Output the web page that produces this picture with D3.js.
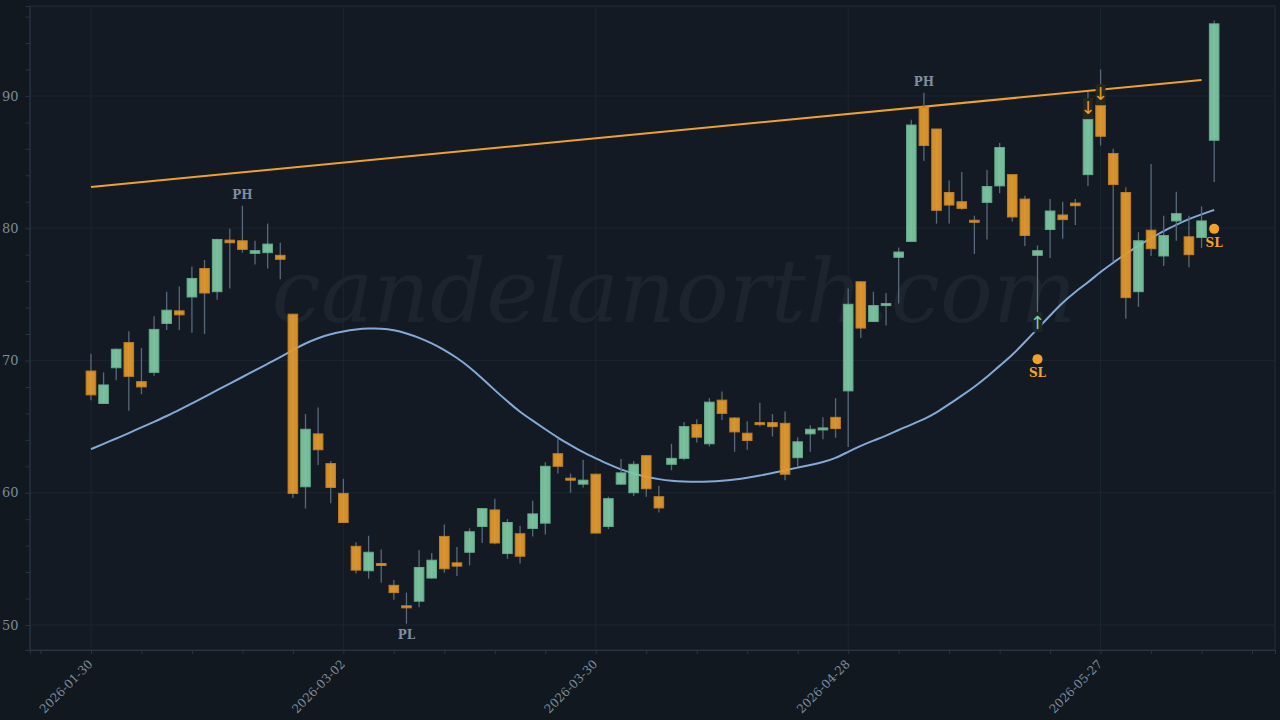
<!DOCTYPE html>
<html>
<head>
<meta charset="utf-8">
<script src="https://cdn.jsdelivr.net/npm/d3@7"></script>
<style>
  html, body { margin: 0; padding: 0; background: #111820; }
  svg { display: block; }
</style>
</head>
<body>
<svg id="chart" width="1280" height="720"></svg>
<script>
// trading days (index = candle)
const dates = [
  '2026-01-30',
  '2026-02-02','2026-02-03','2026-02-04','2026-02-05','2026-02-06',
  '2026-02-09','2026-02-10','2026-02-11','2026-02-12','2026-02-13',
  '2026-02-17','2026-02-18','2026-02-19','2026-02-20',
  '2026-02-23','2026-02-24','2026-02-25','2026-02-26','2026-02-27',
  '2026-03-02','2026-03-03','2026-03-04','2026-03-05','2026-03-06',
  '2026-03-09','2026-03-10','2026-03-11','2026-03-12','2026-03-13',
  '2026-03-16','2026-03-17','2026-03-18','2026-03-19','2026-03-20',
  '2026-03-23','2026-03-24','2026-03-25','2026-03-26','2026-03-27',
  '2026-03-30','2026-03-31','2026-04-01','2026-04-02',
  '2026-04-06','2026-04-07','2026-04-08','2026-04-09','2026-04-10',
  '2026-04-13','2026-04-14','2026-04-15','2026-04-16','2026-04-17',
  '2026-04-20','2026-04-21','2026-04-22','2026-04-23','2026-04-24',
  '2026-04-27','2026-04-28','2026-04-29','2026-04-30','2026-05-01',
  '2026-05-04','2026-05-05','2026-05-06','2026-05-07','2026-05-08',
  '2026-05-11','2026-05-12','2026-05-13','2026-05-14','2026-05-15',
  '2026-05-18','2026-05-19','2026-05-20','2026-05-21','2026-05-22',
  '2026-05-26','2026-05-27','2026-05-28','2026-05-29',
  '2026-06-01','2026-06-02','2026-06-03','2026-06-04','2026-06-05',
  '2026-06-08','2026-06-09'
];
const labelDates = ['2026-01-30', '2026-03-02', '2026-03-30', '2026-04-28', '2026-05-27'];

const open = [
  69.2, 66.75, 69.45, 71.35, 68.4, 69.1, 72.8, 73.75, 74.8, 76.95,
  75.2, 79.1, 79.05, 78.1, 78.15, 77.95, 73.5, 60.45, 64.45, 62.2,
  59.95, 55.95, 54.1, 54.65, 53.0, 51.45, 51.8, 53.55, 56.7, 54.7,
  55.5, 57.45, 58.7, 55.4, 56.9, 57.3, 57.7, 62.95, 61.1, 60.65,
  61.4, 57.45, 60.65, 60.0, 62.8, 59.7, 62.15, 62.6, 65.15, 63.7,
  67.0, 65.65, 64.5, 65.3, 65.3, 65.25, 62.65, 64.45, 64.8, 65.7,
  67.7, 75.95, 72.95, 74.2, 77.8, 79.0, 89.15, 87.5, 82.7, 82.0,
  80.6, 81.95, 83.2, 84.05, 82.2, 77.95, 79.9, 81.0, 81.9, 84.05,
  89.3, 85.65, 82.7, 75.2, 79.85, 77.9, 80.55, 79.35, 79.3, 86.65
];
const high = [
  70.5, 69.1, 70.9, 72.2, 70.95, 73.35, 75.2, 75.6, 77.1, 77.6,
  79.2, 79.95, 81.7, 79.05, 80.35, 78.9, 73.5, 65.95, 66.45, 62.4,
  61.05, 56.25, 56.75, 55.7, 53.4, 52.45, 55.65, 55.45, 57.6, 55.9,
  57.3, 58.8, 59.55, 58.0, 57.5, 59.4, 62.3, 64.1, 61.45, 62.5,
  61.45, 59.7, 62.55, 62.4, 62.85, 60.5, 63.7, 65.35, 65.55, 67.15,
  67.65, 65.7, 65.4, 66.8, 65.95, 66.15, 64.2, 65.1, 65.7, 67.15,
  75.45, 75.95, 75.2, 75.1, 78.55, 88.2, 90.25, 87.5, 83.6, 84.25,
  80.95, 84.4, 86.45, 84.05, 82.45, 78.7, 82.2, 82.0, 82.2, 90.3,
  92.0, 86.0, 83.1, 79.7, 84.85, 80.95, 82.75, 80.95, 81.65, 95.7
];
const low = [
  67.0, 66.7, 68.5, 66.2, 67.45, 68.85, 72.3, 72.3, 72.1, 72.0,
  74.6, 75.45, 78.15, 77.25, 76.95, 76.15, 59.6, 58.8, 62.1, 59.2,
  57.75, 53.9, 53.5, 53.2, 51.9, 50.1, 51.35, 53.5, 53.95, 53.7,
  54.5, 56.2, 56.1, 55.0, 54.65, 56.7, 56.85, 61.45, 60.0, 60.4,
  56.95, 57.25, 60.6, 59.75, 59.7, 58.5, 61.7, 62.45, 63.8, 63.5,
  65.5, 63.1, 63.25, 65.0, 64.25, 60.95, 61.95, 63.1, 64.05, 64.15,
  63.45, 71.7, 72.9, 72.65, 74.3, 79.0, 85.1, 80.35, 80.35, 81.4,
  78.05, 79.15, 82.65, 80.5, 78.65, 73.65, 77.75, 79.2, 80.25, 83.2,
  86.25, 77.45, 73.15, 74.05, 77.9, 77.15, 79.05, 77.05, 78.5, 83.5
];
const close = [
  67.4, 68.15, 70.85, 68.8, 68.0, 72.35, 73.8, 73.45, 76.2, 75.1,
  79.15, 78.9, 78.4, 78.3, 78.8, 77.65, 59.95, 64.8, 63.25, 60.4,
  57.75, 54.15, 55.5, 54.5, 52.45, 51.35, 54.35, 54.9, 54.25, 54.45,
  57.05, 58.8, 56.2, 57.75, 55.2, 58.4, 62.0, 62.0, 61.05, 60.95,
  56.95, 59.55, 61.5, 62.15, 60.3, 58.85, 62.6, 65.0, 64.2, 66.85,
  66.0, 64.6, 63.95, 65.2, 65.0, 61.4, 63.85, 64.8, 64.9, 64.85,
  74.25, 72.45, 74.15, 74.3, 78.2, 87.8, 86.25, 81.35, 81.75, 81.5,
  80.45, 83.15, 86.1, 80.85, 79.45, 78.3, 81.3, 80.65, 81.7, 88.25,
  86.95, 83.3, 74.75, 79.05, 78.45, 79.45, 81.1, 78.0, 80.55, 95.45
];
// smoothed average line
const ma = [
  63.3, 63.7, 64.1, 64.5, 64.95, 65.35, 65.8, 66.25, 66.75, 67.25,
  67.75, 68.25, 68.75, 69.25, 69.75, 70.25, 70.8, 71.3, 71.7, 72.0,
  72.2, 72.35, 72.42, 72.42, 72.3, 72.05, 71.72, 71.3, 70.8, 70.2,
  69.5, 68.65, 67.75, 66.9, 66.1, 65.45, 64.8, 64.15, 63.6, 63.05,
  62.6, 62.15, 61.75, 61.45, 61.2, 61.02, 60.9, 60.84, 60.82, 60.84,
  60.9, 61.0, 61.13, 61.3, 61.48, 61.7, 61.9, 62.1, 62.32, 62.6,
  63.1, 63.55, 63.95, 64.3, 64.75, 65.15, 65.55, 66.05, 66.7, 67.33,
  68.0, 68.75, 69.6, 70.4, 71.4, 72.4, 73.4, 74.4, 75.2, 75.9,
  76.7, 77.4, 78.05, 78.7, 79.25, 79.8, 80.25, 80.7, 81.05, 81.38
];
const trendIdx = [0, 88];
const trendVal = [83.12, 91.21];
const pivotHighs = [12, 66];
const pivotLows = [25];
const sellSignals = [79, 80];
const buySignals = [75];
const stopIdx = [75, 89];
const stopVal = [70.1, 79.95];

const W = 1280, H = 720;
const m = { left: 30, right: 5, top: 6, bottom: 70 };
const svg = d3.select('#chart');

const x = d3.scaleLinear().domain([-4.83, 93.82]).range([m.left, W - m.right]);
const y = d3.scaleLinear().domain([48.11, 96.8]).range([H - m.bottom, m.top]);
const step = x(1) - x(0);
const bw = step * 0.76;

const GREEN = '#7fcaa5', ORANGE = '#e59b2d', TEXT = '#7d8b9c';
const serif = '"DejaVu Serif", serif';

svg.append('rect')
  .attr('x', m.left).attr('y', m.top)
  .attr('width', W - m.right - m.left).attr('height', H - m.bottom - m.top)
  .attr('fill', '#131a24').attr('stroke', '#222d3a');

// grid
const grid = svg.append('g');
[50, 60, 70, 80, 90].forEach(v => {
  grid.append('line').attr('x1', m.left).attr('x2', W - m.right)
    .attr('y1', y(v)).attr('y2', y(v)).attr('stroke', '#1b2630');
});
labelDates.forEach(d => {
  const i = dates.indexOf(d);
  grid.append('line').attr('y1', m.top).attr('y2', H - m.bottom)
    .attr('x1', x(i)).attr('x2', x(i)).attr('stroke', '#1b2630');
});

// watermark
svg.append('text')
  .attr('x', 674).attr('y', 322)
  .attr('text-anchor', 'middle')
  .style('font-family', serif).style('font-style', 'italic')
  .style('font-size', '88px')
  .attr('fill', '#1c242e')
  .text('candelanorth.com');

// axes
const yAxis = d3.axisLeft(y).tickValues(d3.range(50, 97, 2)).tickSize(4).tickPadding(7)
  .tickFormat(v => v % 10 === 0 ? v : '');
const gy = svg.append('g').attr('transform', `translate(${m.left - 0.5},0)`).call(yAxis);
gy.select('.domain').attr('stroke', '#2a3544');
gy.selectAll('.tick line').attr('stroke', '#2a3544');
gy.selectAll('.tick text').attr('fill', TEXT).style('font-family', serif).style('font-size', '13px');

const xAxis = d3.axisBottom(x).tickValues(d3.range(-4, 93, 4)).tickSize(4)
  .tickFormat(i => labelDates.includes(dates[i]) ? dates[i] : '');
const gx = svg.append('g').attr('transform', `translate(0,${H - m.bottom})`).call(xAxis);
gx.select('.domain').attr('stroke', '#2a3544');
gx.selectAll('.tick line').attr('stroke', '#2a3544');
gx.selectAll('.tick text')
  .attr('fill', TEXT).style('font-family', serif).style('font-size', '12px')
  .attr('x', 0).attr('y', 0).attr('dy', '0.35em').attr('text-anchor', 'end')
  .attr('transform', 'translate(-1,12) rotate(-45)');

// trendline
svg.append('path')
  .datum(trendIdx.map((i, k) => [i, trendVal[k]]))
  .attr('d', d3.line().x(d => x(d[0])).y(d => y(d[1])))
  .attr('fill', 'none').attr('stroke', '#eea22c').attr('stroke-width', 2);

// moving average
svg.append('path')
  .datum(ma)
  .attr('d', d3.line().x((d, i) => x(i)).y(d => y(d)).curve(d3.curveBasis))
  .attr('fill', 'none').attr('stroke', '#84a9d6').attr('stroke-width', 2);

// candles
const candles = svg.append('g').selectAll('g').data(d3.range(dates.length)).join('g');
candles.append('line')
  .attr('x1', i => x(i)).attr('x2', i => x(i))
  .attr('y1', i => y(high[i])).attr('y2', i => y(low[i]))
  .attr('stroke', '#58697b').attr('stroke-width', 1.3);
candles.append('rect')
  .attr('x', i => x(i) - bw / 2)
  .attr('width', bw)
  .attr('y', i => y(Math.max(open[i], close[i])))
  .attr('height', i => Math.max(2, Math.abs(y(open[i]) - y(close[i]))))
  .attr('fill', i => close[i] >= open[i] ? GREEN : ORANGE)
  .attr('stroke', i => close[i] >= open[i] ? '#6cb692' : '#cc8826')
  .attr('stroke-width', 1)
  .attr('opacity', 0.92);

// sell arrows above body
sellSignals.forEach(i => {
  const top = y(Math.max(open[i], close[i]));
  svg.append('rect').attr('x', x(i) - 5).attr('y', top - 21).attr('width', 10).attr('height', 21)
    .attr('fill', '#27261f').attr('opacity', 0.95);
  svg.append('text').attr('x', x(i)).attr('y', top - 5).attr('text-anchor', 'middle')
    .attr('fill', ORANGE).style('font-family', '"DejaVu Sans", sans-serif').style('font-size', '18px')
    .text('↓');
});
// buy arrows below low
buySignals.forEach(i => {
  const bot = y(low[i]);
  svg.append('rect').attr('x', x(i) - 5).attr('y', bot).attr('width', 10).attr('height', 20)
    .attr('fill', '#1a2626').attr('opacity', 0.95);
  svg.append('text').attr('x', x(i)).attr('y', bot + 17).attr('text-anchor', 'middle')
    .attr('fill', GREEN).style('font-family', '"DejaVu Sans", sans-serif').style('font-size', '18px')
    .text('↑');
});

// pivot labels
pivotHighs.forEach(i => {
  svg.append('text').attr('x', x(i)).attr('y', y(high[i]) - 7).attr('text-anchor', 'middle')
    .attr('fill', '#7f8ea2').style('font-family', serif).style('font-size', '12px')
    .style('font-weight', 'bold').text('PH');
});
pivotLows.forEach(i => {
  svg.append('text').attr('x', x(i)).attr('y', y(low[i]) + 15).attr('text-anchor', 'middle')
    .attr('fill', '#7f8ea2').style('font-family', serif).style('font-size', '12px')
    .style('font-weight', 'bold').text('PL');
});

// stop levels
stopIdx.forEach((i, k) => {
  svg.append('circle').attr('cx', x(i)).attr('cy', y(stopVal[k])).attr('r', 5).attr('fill', '#f0a22a');
  svg.append('text').attr('x', x(i)).attr('y', y(stopVal[k]) + 18).attr('text-anchor', 'middle')
    .attr('fill', '#f0a22a').style('font-family', serif).style('font-size', '12px')
    .style('font-weight', 'bold').text('SL');
});
</script>
</body>
</html>
